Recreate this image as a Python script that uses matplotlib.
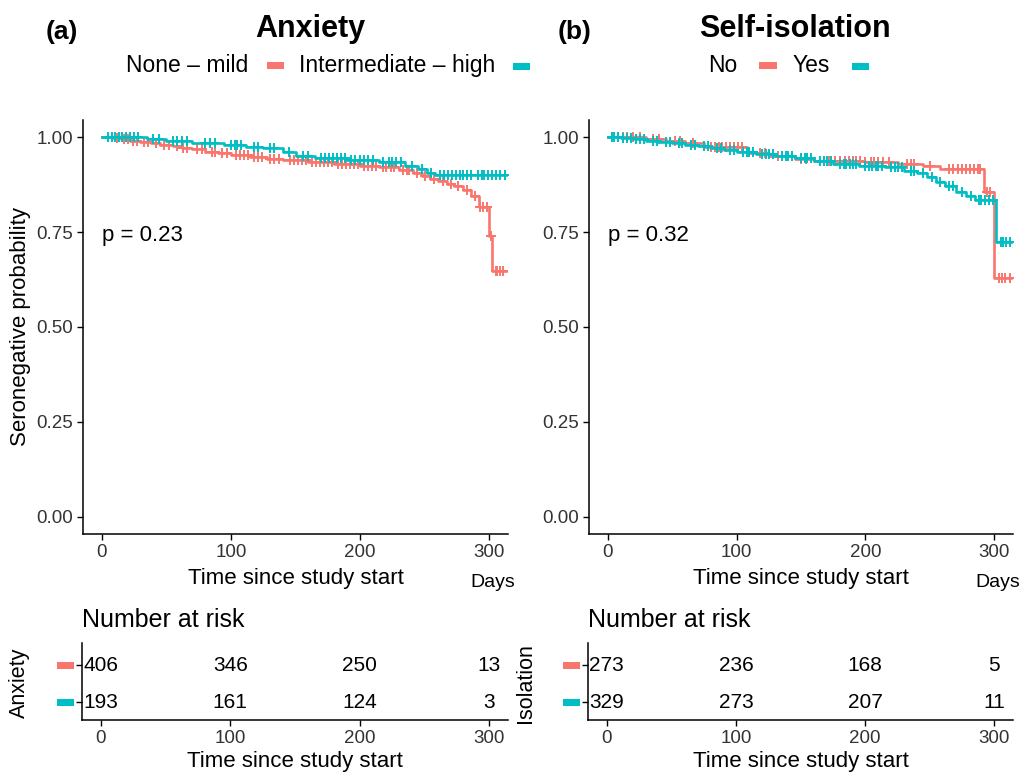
import matplotlib
matplotlib.use("Agg")
import matplotlib.pyplot as plt
import matplotlib.transforms as mtransforms
from matplotlib.patches import Rectangle
import numpy as np

plt.rcParams["font.family"] = ["Liberation Sans", "DejaVu Sans"]

W, H = 1027, 774
RED = "#F8766D"
CYAN = "#00BFC4"
TICK_COLOR = "#333333"

# ---- data ----
# (a) Anxiety
anx_mild_times = [8, 15, 22, 30, 38, 45, 55, 62, 70, 80, 90, 100, 115, 128, 140,
                  160, 180, 200, 215, 230, 241, 248, 254, 260, 267, 273, 280,
                  286, 292, 300, 302]
anx_mild_surv = [0.997, 0.994, 0.991, 0.988, 0.984, 0.980, 0.976, 0.972, 0.968,
                 0.962, 0.957, 0.952, 0.947, 0.943, 0.940, 0.935, 0.930, 0.925,
                 0.920, 0.913, 0.905, 0.898, 0.890, 0.884, 0.877, 0.870, 0.860,
                 0.845, 0.816, 0.740, 0.648]
anx_mild_censor = [12, 17, 20, 24, 27, 33, 36, 42, 48, 52, 58, 63, 66, 74, 78, 85,
                   88, 93, 97, 104, 107, 110, 113, 118, 121, 124, 130, 133, 137,
                   146, 149, 152, 155, 158, 163, 166, 169, 172, 175, 178, 183, 186,
                   189, 192, 195, 198, 203, 206, 209, 212, 218, 220, 224, 226, 233,
                   236, 238, 244, 250, 257, 264, 270, 276, 283, 289, 293, 295, 298,
                   301, 305, 306, 308, 311]

anx_high_times = [35, 50, 70, 95, 112, 125, 140, 150, 165, 190, 215, 235, 245,
                  252, 258]
anx_high_surv = [0.995, 0.990, 0.985, 0.980, 0.975, 0.970, 0.960, 0.950, 0.945,
                 0.940, 0.935, 0.925, 0.915, 0.905, 0.900]
anx_high_censor = [5, 8, 10, 13, 16, 19, 22, 25, 28, 40, 44, 55, 58, 62, 66, 80,
                   84, 88, 100, 103, 105, 108, 118, 121, 130, 133, 145, 156, 160,
                   170, 173, 176, 179, 182, 185, 188, 193, 196, 200, 203, 206, 210,
                   218, 222, 225, 228, 232, 240, 248, 255, 262, 265, 268, 271, 274,
                   277, 280, 283, 286, 291, 294, 296, 299, 302, 305, 308, 312]

# (b) Self-isolation
iso_no_times = [30, 45, 60, 75, 108, 125, 145, 160, 200, 225, 245, 258, 292, 300]
iso_no_surv = [0.995, 0.990, 0.984, 0.975, 0.958, 0.950, 0.942, 0.938, 0.934,
               0.930, 0.924, 0.917, 0.855, 0.630]
iso_no_censor = [8, 12, 15, 20, 25, 35, 40, 52, 56, 66, 80, 83, 86, 89, 92, 95,
                 98, 101, 104, 118, 122, 132, 150, 154, 168, 172, 176, 180, 184,
                 187, 190, 193, 196, 200, 204, 207, 210, 214, 218, 232, 235, 238,
                 250, 265, 268, 272, 275, 278, 281, 284, 287, 289, 294, 297, 304,
                 306, 308, 312]

iso_yes_times = [10, 20, 30, 40, 50, 60, 70, 80, 90, 100, 115, 130, 145, 160, 175,
                 195, 215, 230, 240, 248, 255, 262, 270, 278, 285, 301]
iso_yes_surv = [0.997, 0.994, 0.990, 0.987, 0.984, 0.980, 0.976, 0.971, 0.966,
                0.961, 0.955, 0.950, 0.945, 0.937, 0.930, 0.925, 0.920, 0.912,
                0.905, 0.895, 0.882, 0.870, 0.855, 0.845, 0.835, 0.725]
iso_yes_censor = [3, 5, 8, 12, 15, 18, 22, 25, 28, 35, 38, 45, 48, 55, 58, 65, 68,
                  75, 78, 85, 88, 95, 98, 105, 108, 110, 113, 120, 123, 125, 128,
                  135, 138, 140, 143, 150, 153, 155, 158, 165, 168, 170, 173, 180,
                  183, 185, 188, 190, 193, 200, 203, 205, 208, 210, 213, 220, 223,
                  225, 228, 235, 238, 245, 252, 258, 265, 268, 275, 282, 288, 290,
                  293, 296, 299, 305, 307, 309, 312]

curve_end = 313

risk_times = [0, 100, 200, 300]
anx_risk_mild = [406, 346, 250, 13]
anx_risk_high = [193, 161, 124, 3]
iso_risk_no = [273, 236, 168, 5]
iso_risk_yes = [329, 273, 207, 11]

x_ticks = [0, 100, 200, 300]
y_ticks = [0.00, 0.25, 0.50, 0.75, 1.00]


def px_axes(fig, x0, y0, x1, y1):
    return fig.add_axes([x0 / W, 1 - y1 / H, (x1 - x0) / W, (y1 - y0) / H])


def ftext(fig, x, y, s, **kw):
    return fig.text(x / W, 1 - y / H, s, **kw)


def fig_rect(fig, x0, y0, x1, y1, color):
    fig.add_artist(Rectangle((x0 / W, 1 - y1 / H), (x1 - x0) / W, (y1 - y0) / H,
                             transform=fig.transFigure, color=color, lw=0))


def draw_km(ax, times, surv, censor, color):
    t = np.concatenate([[0], times, [curve_end]])
    s = np.concatenate([[1.0], surv, [surv[-1]]])
    ax.step(t, s, where="post", color=color, lw=1.9, zorder=3)
    idx = np.searchsorted(times, censor, side="right")
    s_c = np.concatenate([[1.0], surv])[idx]
    ax.plot(censor, s_c, ls="none", marker="+", ms=7.5, mew=1.4, color=color,
            zorder=3)


def style_axes(ax):
    for side in ("top", "right"):
        ax.spines[side].set_visible(False)
    for side in ("left", "bottom"):
        ax.spines[side].set_linewidth(1.1)
    ax.set_xlim(-14.5, 314.5)
    ax.set_xticks(x_ticks)
    ax.tick_params(length=4, width=1, pad=3, labelsize=13.5, labelcolor=TICK_COLOR)


fig = plt.figure(figsize=(W / 100, H / 100), dpi=100)

panels = [
    dict(x0=83, x1=508, curves=[(anx_mild_times, anx_mild_surv, anx_mild_censor, RED),
                                (anx_high_times, anx_high_surv, anx_high_censor, CYAN)],
         p="p = 0.23", risk=[anx_risk_mild, anx_risk_high], risk_label="Anxiety",
         ylabel=True),
    dict(x0=589, x1=1013, curves=[(iso_no_times, iso_no_surv, iso_no_censor, RED),
                                  (iso_yes_times, iso_yes_surv, iso_yes_censor, CYAN)],
         p="p = 0.32", risk=[iso_risk_no, iso_risk_yes], risk_label="Isolation",
         ylabel=False),
]

for pan in panels:
    ax = px_axes(fig, pan["x0"], 120, pan["x1"], 534)
    for times, surv, cens, col in pan["curves"]:
        draw_km(ax, times, surv, cens, col)
    style_axes(ax)
    ax.set_ylim(-0.045, 1.045)
    ax.set_yticks(y_ticks)
    ax.set_yticklabels([f"{v:.2f}" for v in y_ticks])
    ax.text(0, 0.74, pan["p"], fontsize=16, va="center", ha="left")
    ax.set_xlabel("Time since study start", fontsize=16, va="center")
    ax.xaxis.set_label_coords(0.5, -0.107)
    ax.text(0.965, -0.118, "Days", transform=ax.transAxes, fontsize=14,
            ha="center", va="center")
    if pan["ylabel"]:
        ax.set_ylabel("Seronegative probability", fontsize=16, va="center")
        ax.yaxis.set_label_coords(-0.148, 0.5)

    # risk table
    rx0 = pan["x0"] - 1
    rax = px_axes(fig, rx0, 643, pan["x1"], 720)
    style_axes(rax)
    rax.set_ylim(0.514, 2.595)
    rax.set_yticks([1, 2])
    rax.set_yticklabels([])
    rows = [2, 1]
    for row, vals, col in zip(rows, pan["risk"], (RED, CYAN)):
        for t, v in zip(risk_times, vals):
            rax.text(t, row, str(v), ha="center", va="center", fontsize=15)
        trans = mtransforms.blended_transform_factory(rax.transAxes, rax.transData)
        rax.add_patch(Rectangle((-0.059, row - 0.095), 0.04, 0.19, transform=trans,
                                color=col, lw=0, clip_on=False))
    rax.text(0, 1.30, "Number at risk", transform=rax.transAxes, fontsize=18,
             ha="left", va="center")
    rax.set_xlabel("Time since study start", fontsize=16, va="center")
    rax.xaxis.set_label_coords(0.5, -0.54)
    rax.set_ylabel(pan["risk_label"], fontsize=15.5, va="center")
    rax.yaxis.set_label_coords(-0.146, 0.48)

# titles and legends
ftext(fig, 62, 39, "(a)", fontsize=19, fontweight="bold", ha="center", va="baseline")
ftext(fig, 310, 37, "Anxiety", fontsize=22, fontweight="bold", ha="center",
      va="baseline")
ftext(fig, 126, 72, "None – mild", fontsize=16.5, ha="left", va="baseline")
fig_rect(fig, 267, 62, 284, 69, RED)
ftext(fig, 299, 72, "Intermediate – high", fontsize=16.5, ha="left", va="baseline")
fig_rect(fig, 513, 63, 530, 70, CYAN)

ftext(fig, 575, 39, "(b)", fontsize=19, fontweight="bold", ha="center", va="baseline")
ftext(fig, 795, 37, "Self-isolation", fontsize=22, fontweight="bold", ha="center",
      va="baseline")
ftext(fig, 708, 72, "No", fontsize=16.5, ha="left", va="baseline")
fig_rect(fig, 759, 62, 777, 69, RED)
ftext(fig, 793, 72, "Yes", fontsize=16.5, ha="left", va="baseline")
fig_rect(fig, 852, 63, 869, 70, CYAN)

fig.savefig("out.png", dpi=100)
